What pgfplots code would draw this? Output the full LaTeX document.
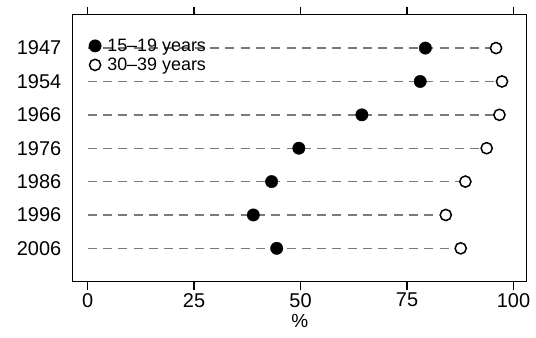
\documentclass[border=0pt]{standalone}
\usepackage{pgfplots}
\pgfplotsset{compat=1.18}
\usepackage{fontspec}
\setmainfont{Liberation Sans}
\definecolor{dashgray}{HTML}{7A7A7A}
\begin{document}
\begin{tikzpicture}
\useasboundingbox (0,0) rectangle (536bp,338bp);
\begin{axis}[
  at={(72.7bp,56.3bp)}, anchor=south west,
  width=454bp, height=267bp, scale only axis,
  xmin=-3.5, xmax=103.1,
  ymin=0, ymax=8, y dir=reverse,
  axis line style={line width=1.4bp},
  xtick={0,25,50,75,100},
  xtick pos=both, xticklabel pos=lower,
  tick align=outside,
  major tick length=8bp,
  xtick style={line width=1.4bp, black},
  ytick={1,2,3,4,5,6,7},
  yticklabels={1947,1954,1966,1976,1986,1996,2006},
  ytick style={draw=none},
  ticklabel style={font=\fontsize{20}{22}\selectfont},
  /pgf/number format/assume math mode=true,
  xlabel={\%},
  xlabel style={font=\fontsize{19}{21}\selectfont},
  legend style={draw=none, fill=none, at={(0,1)}, anchor=north west,
    xshift=16bp, yshift=-22bp, font=\fontsize{18}{19}\selectfont,
    row sep=1bp, inner sep=0pt,
    /tikz/every odd column/.append style={column sep=4bp}},
  legend cell align=left,
  clip=false,
]
\addplot[dashgray, line width=1.4bp, dash pattern=on 9bp off 6.3bp, forget plot] coordinates {(0,1) (95.9,1)};
\addplot[dashgray, line width=1.4bp, dash pattern=on 9bp off 6.3bp, forget plot] coordinates {(0,2) (97.3,2)};
\addplot[dashgray, line width=1.4bp, dash pattern=on 9bp off 6.3bp, forget plot] coordinates {(0,3) (96.7,3)};
\addplot[dashgray, line width=1.4bp, dash pattern=on 9bp off 6.3bp, forget plot] coordinates {(0,4) (93.7,4)};
\addplot[dashgray, line width=1.4bp, dash pattern=on 9bp off 6.3bp, forget plot] coordinates {(0,5) (88.7,5)};
\addplot[dashgray, line width=1.4bp, dash pattern=on 9bp off 6.3bp, forget plot] coordinates {(0,6) (84.1,6)};
\addplot[dashgray, line width=1.4bp, dash pattern=on 9bp off 6.3bp, forget plot] coordinates {(0,7) (87.6,7)};
\addplot[only marks, mark=*, mark size=6.2bp, mark options={fill=black, draw=black}] coordinates {
(79.3,1) (78.1,2) (64.4,3) (49.6,4) (43.2,5) (38.9,6) (44.4,7)};
\addlegendentry{15--19 years}
\addplot[only marks, mark=*, mark size=5.6bp, mark options={fill=white, draw=black, line width=1.5bp}] coordinates {
(95.9,1) (97.3,2) (96.7,3) (93.7,4) (88.7,5) (84.1,6) (87.6,7)};
\addlegendentry{30--39 years}
\end{axis}
\end{tikzpicture}
\end{document}
